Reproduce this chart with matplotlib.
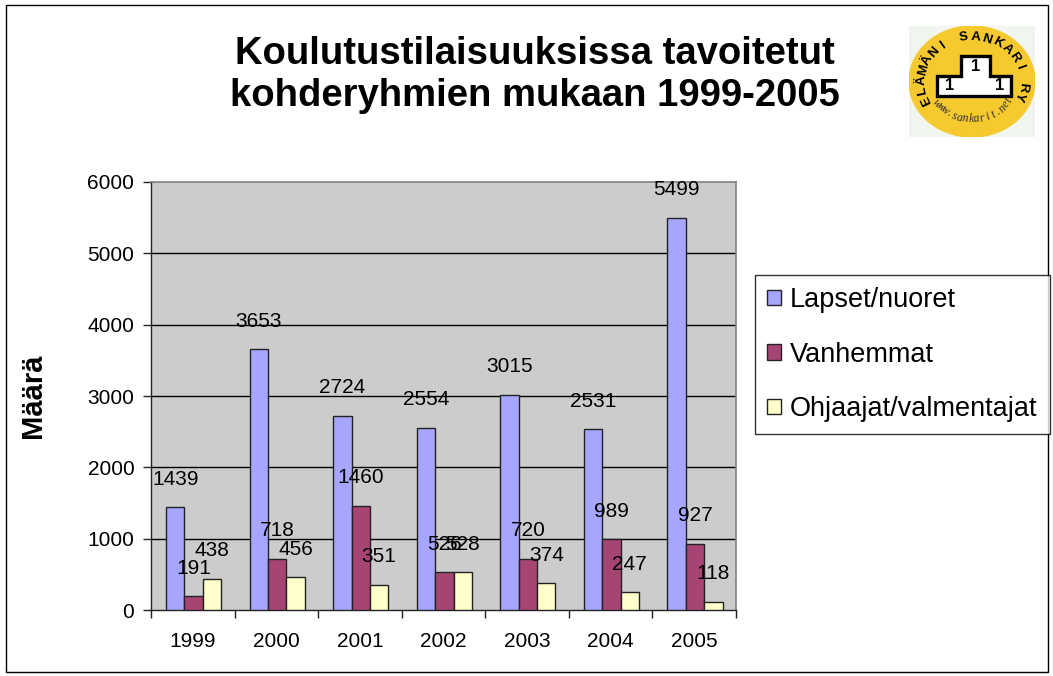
"""
plot.py — Koulutustilaisuuksissa tavoitetut kohderyhmien mukaan 1999-2005.
"""

import numpy as np
import matplotlib
matplotlib.use('Agg')
import matplotlib.pyplot as plt
from matplotlib.patches import Ellipse, Polygon, Rectangle

plt.rcParams['font.family'] = ['Liberation Sans', 'DejaVu Sans']

# ---------------------------------------------------------------------------
# Data
# ---------------------------------------------------------------------------
years       = ['1999', '2000', '2001', '2002', '2003', '2004', '2005']
lapset      = [1439, 3653, 2724, 2554, 3015, 2531, 5499]
vanhemmat   = [191, 718, 1460, 526, 720, 989, 927]
ohjaajat    = [438, 456, 351, 528, 374, 247, 118]
series_names = ['Lapset/nuoret', 'Vanhemmat', 'Ohjaajat/valmentajat']
y_ticks     = [0, 1000, 2000, 3000, 4000, 5000, 6000]

colors = ['#A6A6FF', '#A64574', '#FFFFCC']
W, H = 1053, 676

fig = plt.figure(figsize=(W / 100, H / 100), dpi=100)
fig.patch.set_facecolor('white')

# ── Main plot area ────────────────────────────────────────────────────────
ax = fig.add_axes([151 / W, 66 / H, 585 / W, 428 / H])
ax.set_facecolor('#CCCCCC')

x = np.arange(len(years))
bw = 0.22
for i, (vals, name) in enumerate(zip([lapset, vanhemmat, ohjaajat], series_names)):
    pos = x + (i - 1) * bw + 0.01
    ax.bar(pos, vals, width=bw, color=colors[i], edgecolor='#222222',
           linewidth=1.0, label=name, zorder=3)
    for p, v in zip(pos, vals):
        ax.annotate(str(v), (p, v), xytext=(0, 28), textcoords='offset pixels',
                    ha='center', va='center', fontsize=15, color='black', zorder=5)

ax.set_xlim(-0.5, len(years) - 0.5)
ax.set_ylim(0, 6000)

ax.set_yticks(y_ticks)
ax.set_yticklabels([str(t) for t in y_ticks], fontsize=15)
ax.tick_params(axis='y', length=6, width=1, pad=6, color='#222222')
for t in y_ticks[1:-1]:
    ax.axhline(t, color='black', linewidth=1.0, zorder=1)

ax.set_xticks(np.arange(len(years) + 1) - 0.5)
ax.set_xticklabels([])
ax.tick_params(axis='x', which='major', length=6, width=1, color='#222222')
ax.set_xticks(x, minor=True)
ax.set_xticklabels(years, minor=True, fontsize=15)
ax.tick_params(axis='x', which='minor', length=0, pad=16)

for side in ['left', 'bottom']:
    ax.spines[side].set_color('#222222')
    ax.spines[side].set_linewidth(1.0)
for side in ['top', 'right']:
    ax.spines[side].set_color('#808080')
    ax.spines[side].set_linewidth(1.2)

# ── Title, axis label, legend ─────────────────────────────────────────────
fig.text(535 / W, 1 - 75 / H,
         'Koulutustilaisuuksissa tavoitetut\nkohderyhmien mukaan 1999-2005',
         ha='center', va='center', fontsize=27.5, fontweight='bold', linespacing=1.2)
fig.text(33 / W, 1 - 396 / H, 'Määrä', rotation=90, ha='center', va='center',
         fontsize=21, fontweight='bold')

leg = fig.legend(loc='upper left', bbox_to_anchor=(755 / W, 1 - 275 / H),
                 bbox_transform=fig.transFigure, fontsize=19.5, frameon=True,
                 fancybox=False, handlelength=0.5, handleheight=0.5,
                 handletextpad=0.35, labelspacing=1.05, borderpad=0.45,
                 borderaxespad=0)
leg.get_frame().set_edgecolor('black')
leg.get_frame().set_linewidth(1.0)

# ── Logo ──────────────────────────────────────────────────────────────────
lax = fig.add_axes([909 / W, 1 - 137 / H, 126 / W, 111 / H])
lax.set_xlim(-1, 1)
lax.set_ylim(-1, 1)
lax.axis('off')
lax.add_patch(Rectangle((-1, -1), 2, 2, color='#F0F5F0', zorder=0))
lax.add_patch(Ellipse((0, 0), 2.0, 2.0, color='#F6C92E', zorder=1))

podium = [(-0.55, -0.26), (0.62, -0.26), (0.62, 0.10), (0.28, 0.10),
          (0.28, 0.46), (-0.18, 0.46), (-0.18, 0.10), (-0.55, 0.10)]
lax.add_patch(Polygon(podium, closed=True, facecolor='white', edgecolor='black',
                      linewidth=2.4, zorder=2))
for px, py in [(0.05, 0.27), (-0.36, -0.08), (0.44, -0.08)]:
    lax.text(px, py, '1', ha='center', va='center', fontsize=12,
             fontweight='bold', zorder=4)

top_text = 'ELÄMÄNI SANKARI RY'
angles = np.linspace(205, -20, len(top_text))
for ch, a in zip(top_text, angles):
    r = np.radians(a)
    lax.text(0.80 * np.cos(r), 0.80 * np.sin(r), ch, rotation=a - 90,
             ha='center', va='center', fontsize=9.5, fontweight='bold', zorder=4)

bottom_text = 'www.sankarit.net'
angles = np.linspace(215, 330, len(bottom_text))
for ch, a in zip(bottom_text, angles):
    r = np.radians(a)
    lax.text(0.68 * np.cos(r), 0.68 * np.sin(r), ch, rotation=a + 90,
             ha='center', va='center', fontsize=8.5, style='italic',
             family='Liberation Serif', color='#333333', zorder=4)

# ── Outer border ──────────────────────────────────────────────────────────
fig.add_artist(Rectangle((6 / W, 4 / H), 1 - 11 / W, 1 - 9 / H,
                         transform=fig.transFigure, fill=False,
                         edgecolor='black', linewidth=1.0))

fig.savefig('out.png', dpi=100)
